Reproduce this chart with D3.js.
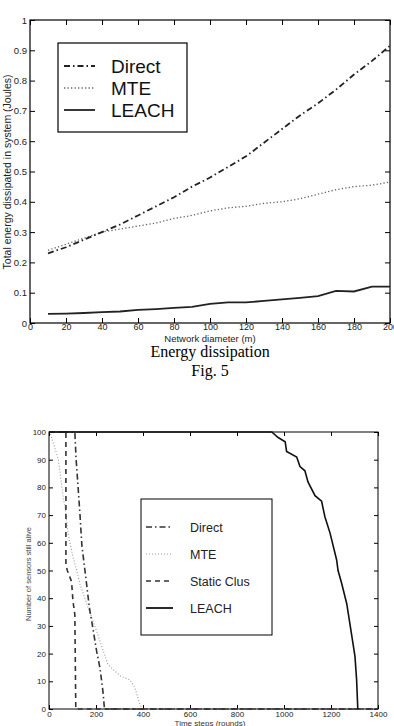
<!DOCTYPE html>
<html>
<head>
<meta charset="utf-8">
<script src="https://cdn.jsdelivr.net/npm/d3@7"></script>
<style>
  body { margin: 0; background: #fff; }
  svg { display: block; }
</style>
</head>
<body>
<script>
// ---- data, top chart (Fig. 5, energy vs network diameter) ----
const diameters = [10, 20, 30, 40, 50, 60, 70, 80, 90, 100, 110, 120, 130, 140, 150, 160, 170, 180, 190, 200];
const directEnergy = [0.23, 0.25, 0.275, 0.30, 0.325, 0.355, 0.385, 0.415, 0.45, 0.48, 0.515, 0.55, 0.595, 0.64, 0.685, 0.725, 0.77, 0.82, 0.865, 0.915];
const mteEnergy = [0.24, 0.26, 0.28, 0.30, 0.31, 0.32, 0.33, 0.345, 0.355, 0.37, 0.38, 0.385, 0.395, 0.40, 0.41, 0.425, 0.44, 0.45, 0.455, 0.465];
const leachEnergy = [0.03, 0.031, 0.033, 0.036, 0.038, 0.043, 0.046, 0.05, 0.053, 0.063, 0.068, 0.068, 0.073, 0.078, 0.083, 0.089, 0.106, 0.104, 0.12, 0.12];
const energyXTicks = [0, 20, 40, 60, 80, 100, 120, 140, 160, 180, 200];
const energyYTicks = [0, 0.1, 0.2, 0.3, 0.4, 0.5, 0.6, 0.7, 0.8, 0.9, 1];

// ---- data, bottom chart (sensors alive vs time) ----
const directAlive = [[0, 100], [110, 100], [115, 90.6], [123, 81], [132, 70], [140, 59], [153, 50], [172, 36.5], [189, 28], [203, 20.7], [217, 14.8], [230, 6], [236, 0], [1400, 0]];
const mteAlive = [[0, 100], [4, 100], [40, 90], [61, 76], [68, 73], [82, 63], [103, 54.5], [118, 50], [132, 45], [167, 36.5], [203, 28], [251, 16], [302, 12], [345, 10.5], [366, 7.6], [387, 1.5], [400, 0], [1400, 0]];
const staticAlive = [[0, 100], [72, 100], [72, 52], [78, 50], [96, 46], [102, 39], [110, 34], [114, 0], [1400, 0]];
const leachAlive = [[0, 100], [948, 100], [975, 98], [1005, 96.5], [1011, 93], [1054, 91], [1068, 87.5], [1089, 86], [1102, 82], [1132, 77], [1160, 75], [1174, 69.4], [1196, 63.5], [1224, 53.8], [1230, 50], [1245, 45.5], [1267, 38], [1288, 26.7], [1302, 19], [1309, 10.5], [1314, 0]];
const timeTicks = [0, 200, 400, 600, 800, 1000, 1200, 1400];
const aliveTicks = [0, 10, 20, 30, 40, 50, 60, 70, 80, 90, 100];

const svg = d3.select("body").append("svg")
    .attr("width", 394)
    .attr("height", 726);

const sans = "'Liberation Sans', Arial, sans-serif";
const serif = "'Liberation Serif', 'Times New Roman', serif";

// ================= top chart =================
const x1 = d3.scaleLinear().domain([0, 200]).range([30, 390]);
const y1 = d3.scaleLinear().domain([0, 1]).range([323, 20]);

function styleAxis(g, size) {
    g.select(".domain").remove();
    g.selectAll("line").attr("stroke", "#000");
    g.selectAll("text").attr("fill", "#222").style("font", size + "px " + sans);
}

svg.append("g")
    .attr("transform", "translate(0,323)")
    .call(d3.axisBottom(x1).tickValues(energyXTicks).tickSize(-5).tickPadding(1).tickFormat(d3.format("d")))
    .call(g => styleAxis(g, 9));
svg.append("g")
    .attr("transform", "translate(0,20)")
    .call(d3.axisTop(x1).tickValues(energyXTicks).tickSize(-5).tickFormat(""))
    .call(g => styleAxis(g, 9));
svg.append("g")
    .attr("transform", "translate(30,0)")
    .call(d3.axisLeft(y1).tickValues(energyYTicks).tickSize(-5).tickPadding(3).tickFormat(d => d === 0 || d === 1 ? d : d3.format(".1f")(d)))
    .call(g => styleAxis(g, 9.5));
svg.append("g")
    .attr("transform", "translate(390,0)")
    .call(d3.axisRight(y1).tickValues(energyYTicks).tickSize(-5).tickFormat(""))
    .call(g => styleAxis(g, 9));

svg.append("rect")
    .attr("x", x1(0)).attr("y", y1(1))
    .attr("width", x1(200) - x1(0)).attr("height", y1(0) - y1(1))
    .attr("fill", "none").attr("stroke", "#000").attr("stroke-width", 1.2);

const line1 = d3.line()
    .x((d, i) => x1(diameters[i]))
    .y(d => y1(d));

svg.append("path").datum(mteEnergy)
    .attr("d", line1).attr("fill", "none")
    .attr("stroke", "#666").attr("stroke-width", 1.3).attr("stroke-dasharray", "1.3,2.2");
svg.append("path").datum(directEnergy)
    .attr("d", line1).attr("fill", "none")
    .attr("stroke", "#222").attr("stroke-width", 1.8).attr("stroke-dasharray", "6,3,1.5,3");
svg.append("path").datum(leachEnergy)
    .attr("d", line1).attr("fill", "none")
    .attr("stroke", "#222").attr("stroke-width", 1.8);

// axis labels
svg.append("text")
    .attr("x", 210).attr("y", 342)
    .attr("text-anchor", "middle")
    .style("font", "9.5px " + sans).attr("fill", "#222")
    .text("Network diameter (m)");
svg.append("text")
    .attr("transform", "translate(11,172) rotate(-90)")
    .attr("text-anchor", "middle")
    .style("font", "10.5px " + sans).attr("fill", "#222")
    .text("Total energy dissipated in system (Joules)");

// legend
const leg1 = svg.append("g");
leg1.append("rect")
    .attr("x", 58).attr("y", 43).attr("width", 129).attr("height", 89)
    .attr("fill", "#fff").attr("stroke", "#000").attr("stroke-width", 1.2);
const leg1Items = [
    {name: "Direct", dash: "6,3,1.5,3", color: "#222", w: 1.8},
    {name: "MTE", dash: "1.3,2.2", color: "#666", w: 1.3},
    {name: "LEACH", dash: null, color: "#222", w: 1.8}
];
leg1Items.forEach((d, i) => {
    const yy = 66 + i * 22;
    leg1.append("line")
        .attr("x1", 64).attr("x2", 95).attr("y1", yy).attr("y2", yy)
        .attr("stroke", d.color).attr("stroke-width", d.w)
        .attr("stroke-dasharray", d.dash);
    leg1.append("text")
        .attr("x", 111).attr("y", yy + 7)
        .style("font", "19px " + sans).attr("fill", "#111")
        .text(d.name);
});

// caption
svg.append("text")
    .attr("x", 210).attr("y", 357).attr("text-anchor", "middle")
    .style("font", "16px " + serif).attr("fill", "#000")
    .text("Energy dissipation");
svg.append("text")
    .attr("x", 210).attr("y", 376).attr("text-anchor", "middle")
    .style("font", "16px " + serif).attr("fill", "#000")
    .text("Fig. 5");

// ================= bottom chart =================
const x2 = d3.scaleLinear().domain([0, 1400]).range([49, 378]);
const y2 = d3.scaleLinear().domain([0, 100]).range([709, 432]);

svg.append("g")
    .attr("transform", "translate(0,709)")
    .call(d3.axisBottom(x2).tickValues(timeTicks).tickSize(-4).tickPadding(2).tickFormat(d3.format("d")))
    .call(g => styleAxis(g, 8));
svg.append("g")
    .attr("transform", "translate(0,432)")
    .call(d3.axisTop(x2).tickValues(timeTicks).tickSize(-4).tickFormat(""))
    .call(g => styleAxis(g, 8));
svg.append("g")
    .attr("transform", "translate(49,0)")
    .call(d3.axisLeft(y2).tickValues(aliveTicks).tickSize(-4).tickPadding(3).tickFormat(d3.format("d")))
    .call(g => styleAxis(g, 8));
svg.append("g")
    .attr("transform", "translate(378,0)")
    .call(d3.axisRight(y2).tickValues(aliveTicks).tickSize(-4).tickFormat(""))
    .call(g => styleAxis(g, 8));

svg.append("rect")
    .attr("x", x2(0)).attr("y", y2(100))
    .attr("width", x2(1400) - x2(0)).attr("height", y2(0) - y2(100))
    .attr("fill", "none").attr("stroke", "#000").attr("stroke-width", 1);

const line2 = d3.line()
    .x(d => x2(d[0]))
    .y(d => y2(d[1]));

svg.append("path").datum(mteAlive)
    .attr("d", line2).attr("fill", "none")
    .attr("stroke", "#999").attr("stroke-width", 1.1).attr("stroke-dasharray", "1,2");
svg.append("path").datum(staticAlive)
    .attr("d", line2).attr("fill", "none")
    .attr("stroke", "#333").attr("stroke-width", 1.6).attr("stroke-dasharray", "5,4");
svg.append("path").datum(directAlive)
    .attr("d", line2).attr("fill", "none")
    .attr("stroke", "#333").attr("stroke-width", 1.6).attr("stroke-dasharray", "6,3,1.5,3");
svg.append("path").datum(leachAlive)
    .attr("d", line2).attr("fill", "none")
    .attr("stroke", "#111").attr("stroke-width", 1.6);

svg.append("text")
    .attr("x", 210).attr("y", 726)
    .attr("text-anchor", "middle")
    .style("font", "8px " + sans).attr("fill", "#333")
    .text("Time steps (rounds)");
svg.append("text")
    .attr("transform", "translate(31,574) rotate(-90)")
    .attr("text-anchor", "middle")
    .style("font", "7.5px " + sans).attr("fill", "#444")
    .text("Number of sensors still alive");

// legend
const leg2 = svg.append("g");
leg2.append("rect")
    .attr("x", 141).attr("y", 499).attr("width", 131).attr("height", 136)
    .attr("fill", "#fff").attr("stroke", "#000").attr("stroke-width", 1);
const leg2Items = [
    {name: "Direct", dash: "6,3,1.5,3", color: "#333", w: 1.6},
    {name: "MTE", dash: "1,2", color: "#999", w: 1.1},
    {name: "Static Clus", dash: "5,4", color: "#333", w: 1.6},
    {name: "LEACH", dash: null, color: "#111", w: 1.8}
];
leg2Items.forEach((d, i) => {
    const yy = 527 + i * 27;
    leg2.append("line")
        .attr("x1", 146).attr("x2", 173).attr("y1", yy).attr("y2", yy)
        .attr("stroke", d.color).attr("stroke-width", d.w)
        .attr("stroke-dasharray", d.dash);
    leg2.append("text")
        .attr("x", 190).attr("y", yy + 5)
        .style("font", "12.5px " + sans).attr("fill", "#222")
        .text(d.name);
});
</script>
</body>
</html>
